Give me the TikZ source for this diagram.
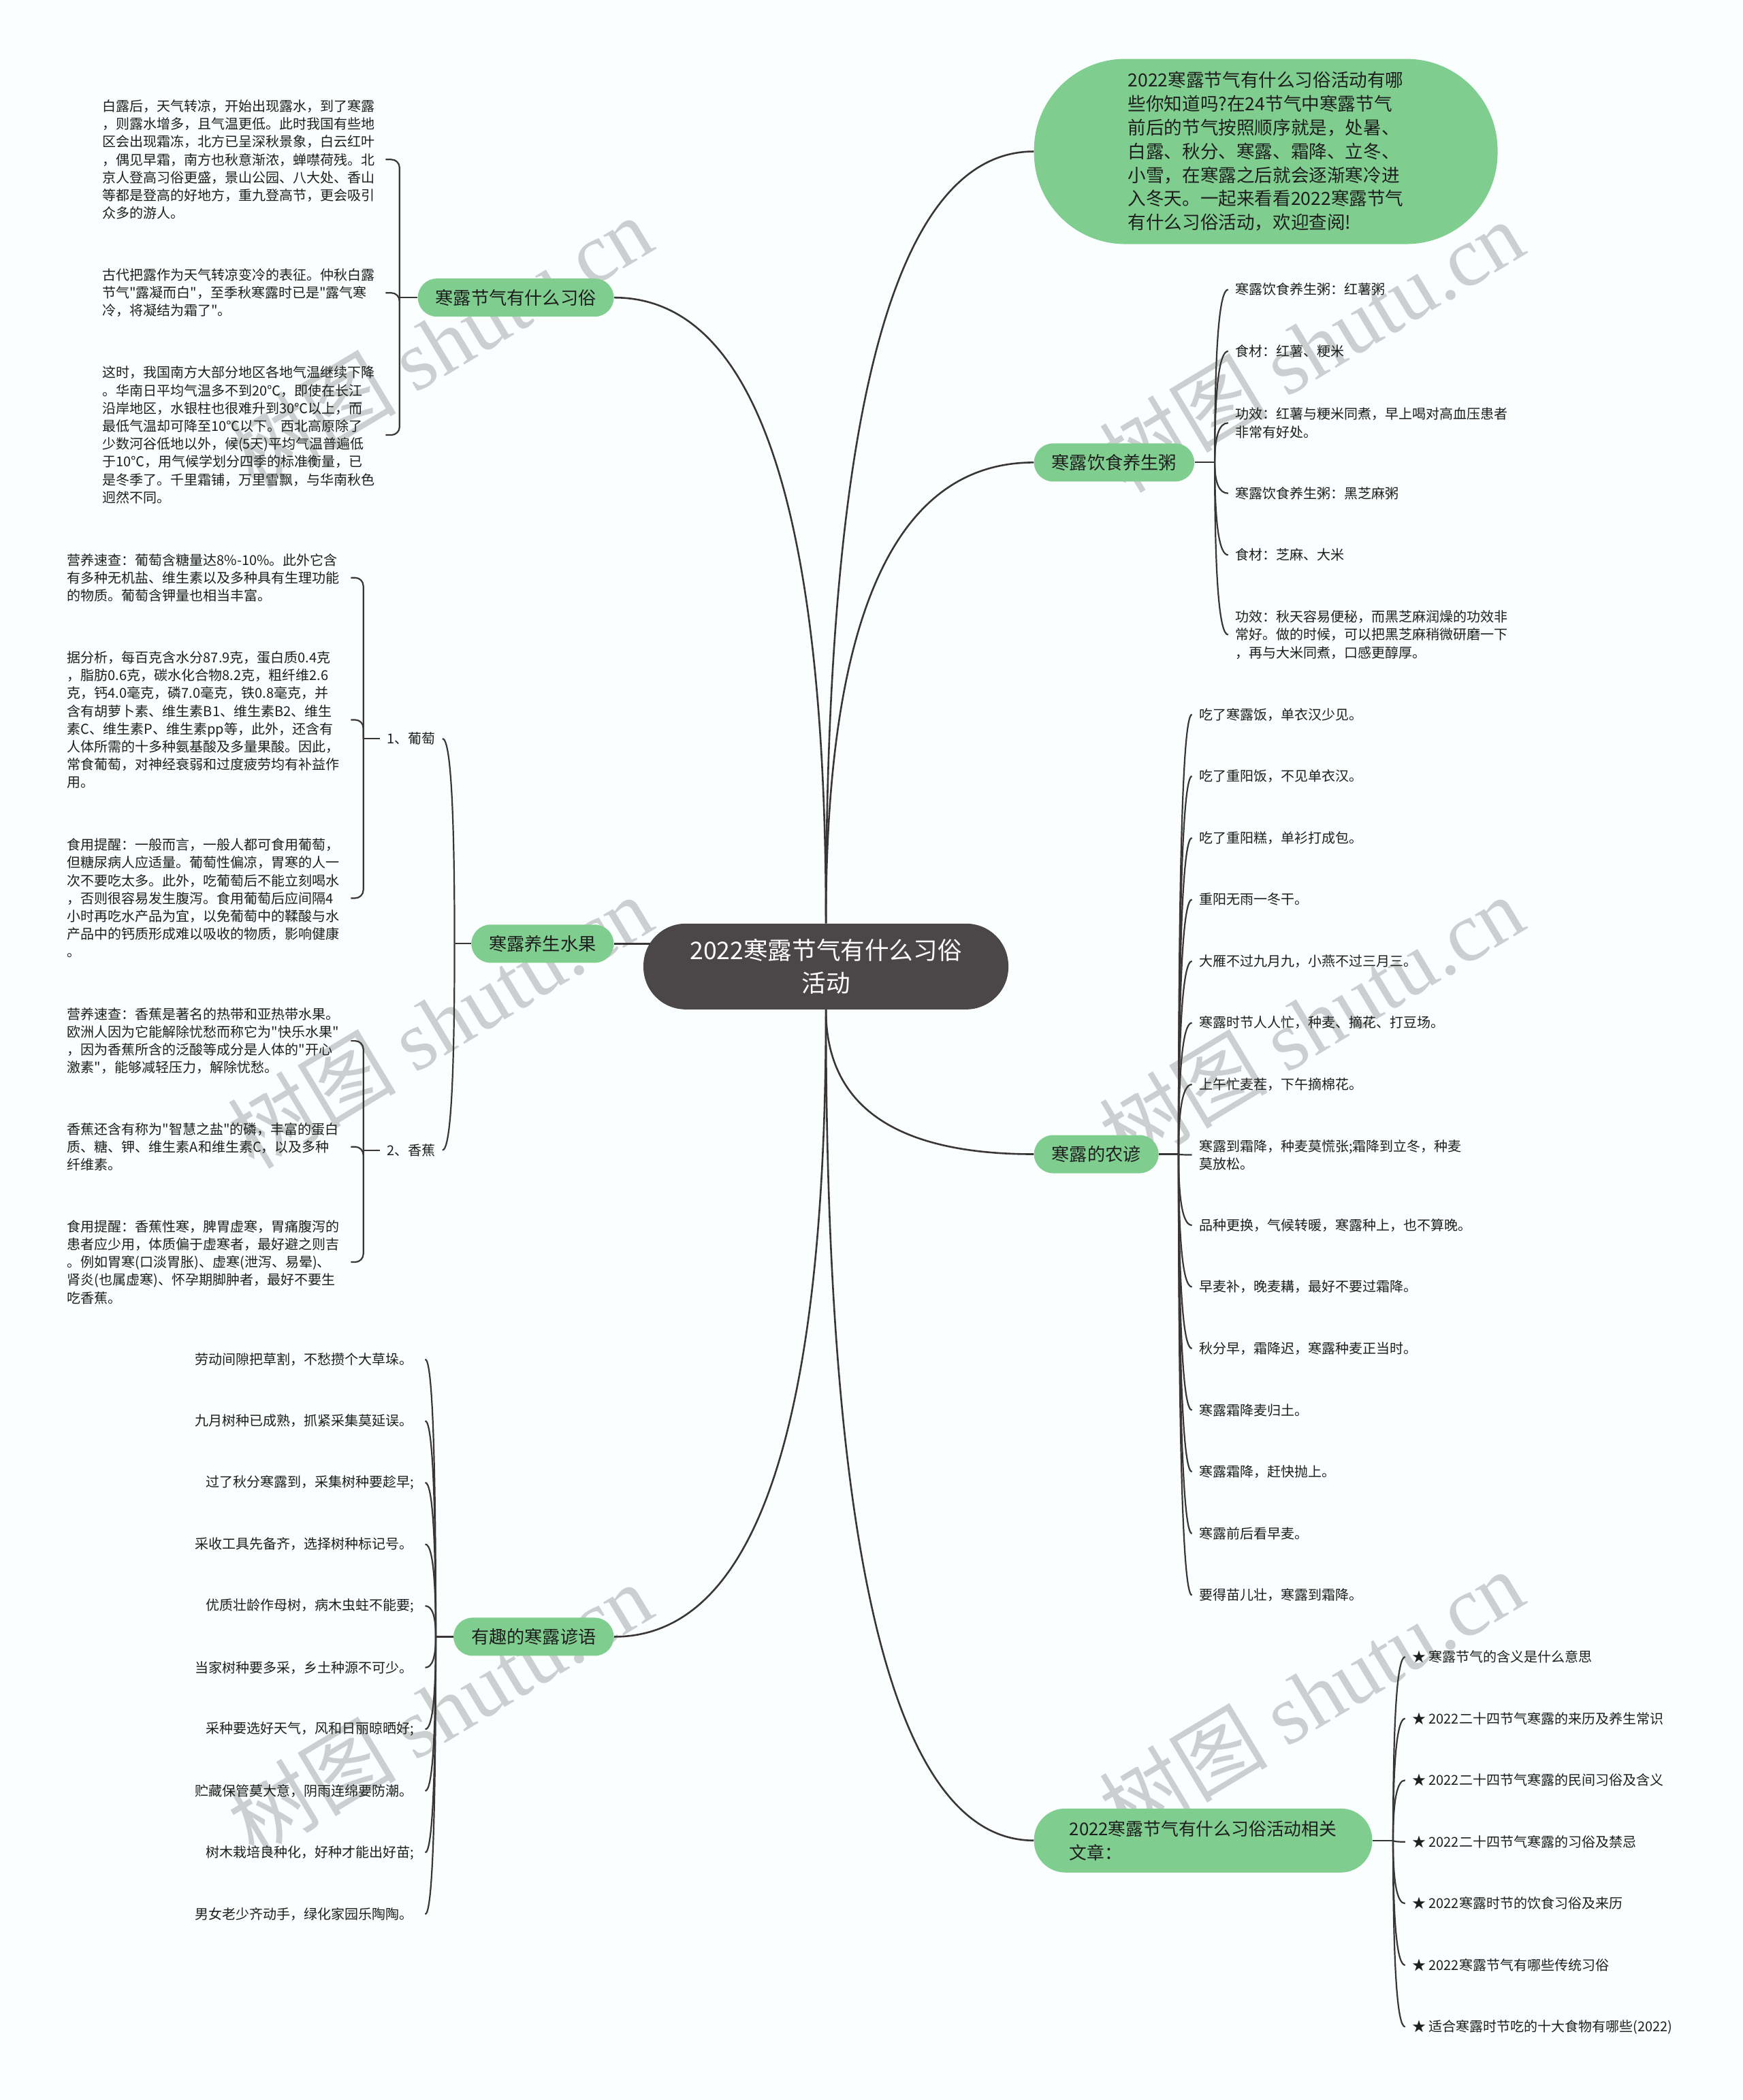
\documentclass[tikz,border=0pt]{standalone}
\usepackage{fontspec}
\setmainfont{Noto Sans CJK SC}[Ligatures=TeXOff]
\newfontfamily\wmlatin{Liberation Serif}
\usetikzlibrary{calc,backgrounds}
\definecolor{bgc}{RGB}{251,254,254}
\definecolor{grn}{RGB}{128,205,144}
\definecolor{darkc}{RGB}{75,70,71}
\definecolor{lnc}{RGB}{58,54,54}
\definecolor{txtc}{RGB}{30,30,30}
\definecolor{wmc}{RGB}{204,207,207}
\tikzset{
  qcurve/.style={to path={.. controls ($(\tikztostart)!0.667!(\tikztostart|-\tikztotarget)$) and ($(\tikztotarget)!0.667!(\tikztostart|-\tikztotarget)$) .. (\tikztotarget)}},
  rootnode/.style={fill=darkc, text=white, rounded corners=31pt, minimum width=268pt, minimum height=63pt, align=center, inner sep=0pt, font=\fontsize{17.8}{23.6}\selectfont},
  branchnode/.style={fill=grn, text=txtc, rounded corners=14pt, minimum height=28pt, inner xsep=13pt, inner ysep=0pt, font=\fontsize{13.1}{17.4}\selectfont},
  bubblenode/.style={fill=grn, text=txtc, rounded corners=67pt, minimum height=136pt, inner xsep=69pt, inner ysep=0pt, align=left, font=\fontsize{13.3}{17.4}\selectfont},
  relnode/.style={fill=grn, text=txtc, rounded corners=23pt, minimum height=47pt, inner xsep=26pt, inner ysep=0pt, align=left, font=\fontsize{12.9}{17.7}\selectfont},
  leafnode/.style={text=txtc, inner xsep=5pt, inner ysep=1pt, align=left, font=\fontsize{10}{13.1}\selectfont},
  blocknode/.style={text=txtc, inner sep=0pt, text width=208pt, align=left, font=\fontsize{10}{13.1}\selectfont},
  proverb/.style={leafnode, text width=164pt, anchor=west},
  conn/.style={draw=lnc, line width=1.3pt},
  subconn/.style={draw=lnc, line width=1.1pt},
  wmark/.style={rotate=31, text=wmc, inner sep=0pt, font=\fontsize{62}{62}\selectfont}
}
\begin{document}
\begin{tikzpicture}[x=0.9846pt, y=-0.9846pt]
\useasboundingbox (0,0) rectangle (1300,1566.6);

% ---- central and main branches ----
\node[rootnode] (c) at (616,721) {2022寒露节气有什么习俗\\活动};
\node[branchnode, anchor=east] (b1) at (458,222) {寒露节气有什么习俗};
\node[branchnode, anchor=east] (b2) at (458,704) {寒露养生水果};
\node[branchnode, anchor=east] (b3) at (458,1221) {有趣的寒露谚语};
\node[bubblenode, anchor=west] (b4) at (771,113) {2022寒露节气有什么习俗活动有哪\\些你知道吗?在24节气中寒露节气\\前后的节气按照顺序就是，处暑、\\白露、秋分、寒露、霜降、立冬、\\小雪，在寒露之后就会逐渐寒冷进\\入冬天。一起来看看2022寒露节气\\有什么习俗活动，欢迎查阅!};
\node[branchnode, anchor=west] (b5) at (771,345) {寒露饮食养生粥};
\node[branchnode, anchor=west] (b6) at (771,861) {寒露的农谚};
\node[relnode, anchor=west] (b7) at (771,1373) {2022寒露节气有什么习俗活动相关\\文章：};

% ---- branch 1 blocks ----
\node[blocknode, anchor=west] (a1) at (76,119) {白露后，天气转凉，开始出现露水，到了寒露\\，则露水增多，且气温更低。此时我国有些地\\区会出现霜冻，北方已呈深秋景象，白云红叶\\，偶见早霜，南方也秋意渐浓，蝉噤荷残。北\\京人登高习俗更盛，景山公园、八大处、香山\\等都是登高的好地方，重九登高节，更会吸引\\众多的游人。};
\node[blocknode, anchor=west] (a2) at (76,218.5) {古代把露作为天气转凉变冷的表征。仲秋白露\\节气"露凝而白"，至季秋寒露时已是"露气寒\\冷，将凝结为霜了"。};
\node[blocknode, anchor=west] (a3) at (76,324.5) {这时，我国南方大部分地区各地气温继续下降\\。华南日平均气温多不到20℃，即使在长江\\沿岸地区，水银柱也很难升到30℃以上，而\\最低气温却可降至10℃以下。西北高原除了\\少数河谷低地以外，候(5天)平均气温普遍低\\于10℃，用气候学划分四季的标准衡量，已\\是冬季了。千里霜铺，万里雪飘，与华南秋色\\迥然不同。};

% ---- fruit ----
\node[leafnode, anchor=east] (g1) at (330,551) {1、葡萄};
\node[leafnode, anchor=east] (g2) at (330,858) {2、香蕉};
\node[blocknode, anchor=west] (p1) at (50,431) {营养速查：葡萄含糖量达8\%-10\%。此外它含\\有多种无机盐、维生素以及多种具有生理功能\\的物质。葡萄含钾量也相当丰富。};
\node[blocknode, anchor=west] (p2) at (50,537) {据分析，每百克含水分87.9克，蛋白质0.4克\\，脂肪0.6克，碳水化合物8.2克，粗纤维2.6\\克，钙4.0毫克，磷7.0毫克，铁0.8毫克，并\\含有胡萝卜素、维生素B1、维生素B2、维生\\素C、维生素P、维生素pp等，此外，还含有\\人体所需的十多种氨基酸及多量果酸。因此，\\常食葡萄，对神经衰弱和过度疲劳均有补益作\\用。};
\node[blocknode, anchor=west] (p3) at (50,670) {食用提醒：一般而言，一般人都可食用葡萄，\\但糖尿病人应适量。葡萄性偏凉，胃寒的人一\\次不要吃太多。此外，吃葡萄后不能立刻喝水\\，否则很容易发生腹泻。食用葡萄后应间隔4\\小时再吃水产品为宜，以免葡萄中的鞣酸与水\\产品中的钙质形成难以吸收的物质，影响健康\\。};
\node[blocknode, anchor=west] (q1) at (50,776.5) {营养速查：香蕉是著名的热带和亚热带水果。\\欧洲人因为它能解除忧愁而称它为"快乐水果"\\，因为香蕉所含的泛酸等成分是人体的"开心\\激素"，能够减轻压力，解除忧愁。};
\node[blocknode, anchor=west] (q2) at (50,855.5) {香蕉还含有称为"智慧之盐"的磷，丰富的蛋白\\质、糖、钾、维生素A和维生素C，以及多种\\纤维素。};
\node[blocknode, anchor=west] (q3) at (50,941.5) {食用提醒：香蕉性寒，脾胃虚寒，胃痛腹泻的\\患者应少用，体质偏于虚寒者，最好避之则吉\\。例如胃寒(口淡胃胀)、虚寒(泄泻、易晕)、\\肾炎(也属虚寒)、怀孕期脚肿者，最好不要生\\吃香蕉。};

% ---- proverbs (left) ----
\node[proverb] (y1) at (140,1014) {劳动间隙把草割，不愁攒个大草垛。};
\node[proverb] (y2) at (140,1060) {九月树种已成熟，抓紧采集莫延误。};
\node[proverb] (y3) at (140,1106) {\hspace*{8pt}过了秋分寒露到，采集树种要趁早;};
\node[proverb] (y4) at (140,1152) {采收工具先备齐，选择树种标记号。};
\node[proverb] (y5) at (140,1198) {\hspace*{8pt}优质壮龄作母树，病木虫蛀不能要;};
\node[proverb] (y6) at (140,1244) {当家树种要多采，乡土种源不可少。};
\node[proverb] (y7) at (140,1290) {\hspace*{8pt}采种要选好天气，风和日丽晾晒好;};
\node[proverb] (y8) at (140,1336) {贮藏保管莫大意，阴雨连绵要防潮。};
\node[proverb] (y9) at (140,1382) {\hspace*{8pt}树木栽培良种化，好种才能出好苗;};
\node[proverb] (y10) at (140,1428) {男女老少齐动手，绿化家园乐陶陶。};

% ---- congee (right) ----
\node[leafnode, anchor=west] (z1) at (916,216) {寒露饮食养生粥：红薯粥};
\node[leafnode, anchor=west] (z2) at (916,262) {食材：红薯、粳米};
\node[leafnode, anchor=west] (z3) at (916,315.5) {功效：红薯与粳米同煮，早上喝对高血压患者\\非常有好处。};
\node[leafnode, anchor=west] (z4) at (916,368) {寒露饮食养生粥：黑芝麻粥};
\node[leafnode, anchor=west] (z5) at (916,414) {食材：芝麻、大米};
\node[leafnode, anchor=west] (z6) at (916,473.5) {功效：秋天容易便秘，而黑芝麻润燥的功效非\\常好。做的时候，可以把黑芝麻稍微研磨一下\\，再与大米同煮，口感更醇厚。};

% ---- farming proverbs (right) ----
\node[leafnode, anchor=west] (n1) at (889,533) {吃了寒露饭，单衣汉少见。};
\node[leafnode, anchor=west] (n2) at (889,579) {吃了重阳饭，不见单衣汉。};
\node[leafnode, anchor=west] (n3) at (889,625) {吃了重阳糕，单衫打成包。};
\node[leafnode, anchor=west] (n4) at (889,671) {重阳无雨一冬干。};
\node[leafnode, anchor=west] (n5) at (889,717) {大雁不过九月九，小燕不过三月三。};
\node[leafnode, anchor=west] (n6) at (889,763) {寒露时节人人忙，种麦、摘花、打豆场。};
\node[leafnode, anchor=west] (n7) at (889,809) {上午忙麦茬，下午摘棉花。};
\node[leafnode, anchor=west] (n8) at (889,861.5) {寒露到霜降，种麦莫慌张;霜降到立冬，种麦\\莫放松。};
\node[leafnode, anchor=west] (n9) at (889,914) {品种更换，气候转暖，寒露种上，也不算晚。};
\node[leafnode, anchor=west] (n10) at (889,960) {早麦补，晚麦耩，最好不要过霜降。};
\node[leafnode, anchor=west] (n11) at (889,1006) {秋分早，霜降迟，寒露种麦正当时。};
\node[leafnode, anchor=west] (n12) at (889,1052) {寒露霜降麦归土。};
\node[leafnode, anchor=west] (n13) at (889,1098) {寒露霜降，赶快抛上。};
\node[leafnode, anchor=west] (n14) at (889,1144) {寒露前后看早麦。};
\node[leafnode, anchor=west] (n15) at (889,1190) {要得苗儿壮，寒露到霜降。};

% ---- related articles ----
\node[leafnode, anchor=west] (r1) at (1048,1236) {★ 寒露节气的含义是什么意思};
\node[leafnode, anchor=west] (r2) at (1048,1282) {★ 2022二十四节气寒露的来历及养生常识};
\node[leafnode, anchor=west] (r3) at (1048,1328) {★ 2022二十四节气寒露的民间习俗及含义};
\node[leafnode, anchor=west] (r4) at (1048,1374) {★ 2022二十四节气寒露的习俗及禁忌};
\node[leafnode, anchor=west] (r5) at (1048,1420) {★ 2022寒露时节的饮食习俗及来历};
\node[leafnode, anchor=west] (r6) at (1048,1466) {★ 2022寒露节气有哪些传统习俗};
\node[leafnode, anchor=west] (r7) at (1048,1512) {★ 适合寒露时节吃的十大食物有哪些(2022)};

% ---- junction points ----
\coordinate (t1) at (298,222);
\coordinate (t2) at (339,704);
\coordinate (tg1) at (271,551);
\coordinate (tg2) at (271,858);
\coordinate (t3) at (325,1221);
\coordinate (t5) at (906,345);
\coordinate (t6) at (879,861);
\coordinate (t7) at (1039,1373);

\begin{pgfonlayer}{background}
\fill[bgc] (0,0) rectangle (1300,1566.6);
\node[wmark] (wm1) at (328,255) {树图 {\wmlatin shutu.cn}};
\node[wmark] (wm2) at (978,258) {树图 {\wmlatin shutu.cn}};
\node[wmark] (wm3) at (328,762) {树图 {\wmlatin shutu.cn}};
\node[wmark] (wm4) at (978,762) {树图 {\wmlatin shutu.cn}};
\node[wmark] (wm5) at (328,1275) {树图 {\wmlatin shutu.cn}};
\node[wmark] (wm6) at (978,1265) {树图 {\wmlatin shutu.cn}};

% main connectors
\draw[conn] (c.north) to[qcurve] (b1.east);
\draw[conn] (c.north) to[qcurve] (b4.west);
\draw[conn] (c.north) to[qcurve] (b5.west);
\draw[conn] (b2.east) -- (c.center |- b2.east);
\draw[conn] (c.south) to[qcurve] (b3.east);
\draw[conn] (c.south) to[qcurve] (b6.west);
\draw[conn] (c.south) to[qcurve] (b7.west);

% branch 1 brace
\draw[subconn] (b1.west) -- (t1);
\foreach \n in {a1,a2,a3}{\draw[subconn, rounded corners=6pt] (\n.east) -- (t1 |- \n.east) -- (t1);}

% fruit
\draw[subconn] (b2.west) -- (t2);
\draw[subconn] (t2) to[qcurve] (g1.east);
\draw[subconn] (t2) to[qcurve] (g2.east);
\draw[subconn] (g1.west) -- (tg1);
\foreach \n in {p1,p2,p3}{\draw[subconn, rounded corners=6pt] (\n.east) -- (tg1 |- \n.east) -- (tg1);}
\draw[subconn] (g2.west) -- (tg2);
\foreach \n in {q1,q2,q3}{\draw[subconn, rounded corners=6pt] (\n.east) -- (tg2 |- \n.east) -- (tg2);}

% proverbs
\draw[subconn] (b3.west) -- (t3);
\foreach \i in {1,...,10}{\draw[subconn] (t3) to[qcurve] (y\i.east);}

% congee
\draw[subconn] (b5.east) -- (t5);
\foreach \i in {1,...,6}{\draw[subconn] (t5) to[qcurve] (z\i.west);}

% farming
\draw[subconn] (b6.east) -- (t6);
\foreach \i in {1,...,15}{\draw[subconn] (t6) to[qcurve] (n\i.west);}

% related
\draw[subconn] (b7.east) -- (t7);
\foreach \i in {1,...,7}{\draw[subconn] (t7) to[qcurve] (r\i.west);}
\end{pgfonlayer}
\end{tikzpicture}
\end{document}
